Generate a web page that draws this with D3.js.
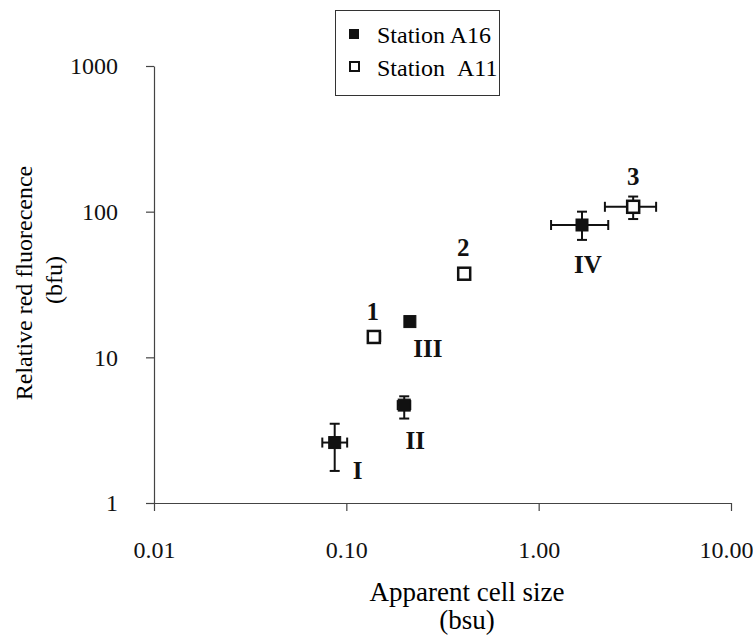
<!DOCTYPE html>
<html><head><meta charset="utf-8">
<script src="https://cdn.jsdelivr.net/npm/d3@7"></script>
<style>body{margin:0;background:#fff}svg{display:block}</style>
</head><body>
<svg id="c" width="753" height="635"></svg>
<script>
// Data
const a16Labels = ["I","II","III","IV"];
const a16X = [0.087, 0.200, 0.214, 1.68];
const a16Y = [2.6, 4.7, 17.6, 81];
const a16XLo = [0.075, 0.185, 0.205, 1.16];
const a16XHi = [0.101, 0.215, 0.225, 2.30];
const a16YLo = [1.66, 3.8, 16.5, 64];
const a16YHi = [3.5, 5.4, 18.8, 100];

const a11Labels = ["1","2","3"];
const a11X = [0.139, 0.41, 3.10];
const a11Y = [13.8, 37.5, 108];
const a11XLo = [0.130, 0.39, 2.21];
const a11XHi = [0.150, 0.43, 4.08];
const a11YLo = [13.0, 35.5, 89];
const a11YHi = [14.8, 39.5, 127];

const xTicks = [0.01, 0.1, 1, 10];
const xTickLabels = ["0.01","0.10","1.00","10.00"];
const yTicks = [1, 10, 100, 1000];
const yTickLabels = ["1","10","100","1000"];

const svg = d3.select("#c");
const font = "'Liberation Serif', 'Times New Roman', serif";
const x = d3.scaleLog().domain([0.01, 10]).range([154, 731]);
const y = d3.scaleLog().domain([1, 1000]).range([503, 66]);

// axes
const xAxis = d3.axisBottom(x).tickValues(xTicks).tickFormat((d,i)=>xTickLabels[i]).tickSizeInner(8).tickSizeOuter(0).tickPadding(30);
const gx = svg.append("g").attr("transform","translate(0,503)").call(xAxis);
const yAxis = d3.axisLeft(y).tickValues(yTicks).tickFormat((d,i)=>yTickLabels[i]).tickSizeInner(8).tickSizeOuter(0).tickPadding(28);
const gy = svg.append("g").attr("transform","translate(154,0)").call(yAxis);
[gx, gy].forEach(g=>{
  g.selectAll("path,line").attr("stroke","#444").attr("stroke-width",1.2);
  g.selectAll("text").attr("font-family",font).attr("fill","#111");
});
gx.selectAll("text").attr("font-size",24);
gy.selectAll("text").attr("font-size",24);
// keep the last x label inside the picture
gx.selectAll(".tick:last-of-type text").attr("text-anchor","end").attr("dx", 22);

// axis titles
svg.append("text").attr("x",467).attr("y",601).attr("text-anchor","middle")
  .attr("font-family",font).attr("font-size",27).text("Apparent cell size");
svg.append("text").attr("x",467).attr("y",629).attr("text-anchor","middle")
  .attr("font-family",font).attr("font-size",27).text("(bsu)");
svg.append("text").attr("transform","translate(32,283) rotate(-90)").attr("text-anchor","middle")
  .attr("font-family",font).attr("font-size",24).text("Relative red fluorecence");
svg.append("text").attr("transform","translate(62,280) rotate(-90)").attr("text-anchor","middle")
  .attr("font-family",font).attr("font-size",24).text("(bfu)");

function drawSeries(X, Y, XLo, XHi, YLo, YHi, filled) {
  const data = X.map((d,i)=>({x:d, y:Y[i], xlo:XLo[i], xhi:XHi[i], ylo:YLo[i], yhi:YHi[i]}));
  const g = svg.append("g").attr("stroke","#111").attr("stroke-width",2);
  const cap = 5;
  data.forEach(d=>{
    const cx = x(d.x), cy = y(d.y);
    g.append("line").attr("x1",x(d.xlo)).attr("x2",x(d.xhi)).attr("y1",cy).attr("y2",cy);
    g.append("line").attr("x1",x(d.xlo)).attr("x2",x(d.xlo)).attr("y1",cy-cap).attr("y2",cy+cap);
    g.append("line").attr("x1",x(d.xhi)).attr("x2",x(d.xhi)).attr("y1",cy-cap).attr("y2",cy+cap);
    g.append("line").attr("x1",cx).attr("x2",cx).attr("y1",y(d.ylo)).attr("y2",y(d.yhi));
    g.append("line").attr("x1",cx-cap).attr("x2",cx+cap).attr("y1",y(d.ylo)).attr("y2",y(d.ylo));
    g.append("line").attr("x1",cx-cap).attr("x2",cx+cap).attr("y1",y(d.yhi)).attr("y2",y(d.yhi));
  });
  svg.append("g").selectAll("rect").data(data).join("rect")
    .attr("x",d=>x(d.x)-6).attr("y",d=>y(d.y)-6).attr("width",12).attr("height",12)
    .attr("fill",filled?"#111":"#fff").attr("stroke","#111").attr("stroke-width",filled?1:2.5);
}
drawSeries(a16X,a16Y,a16XLo,a16XHi,a16YLo,a16YHi,true);
drawSeries(a11X,a11Y,a11XLo,a11XHi,a11YLo,a11YHi,false);

// point labels
const lab = (t, px, py, dx, dy) => svg.append("text").attr("x",x(px)+dx).attr("y",y(py)+dy)
  .attr("text-anchor","middle").attr("font-family",font).attr("font-weight","bold").attr("font-size",25).attr("fill","#111").text(t);
const a16Off = [[23,36],[11,44],[18,35],[6,48]];
a16Labels.forEach((t,i)=>lab(t,a16X[i],a16Y[i],a16Off[i][0],a16Off[i][1]));
const a11Off = [[-1,-17],[-1,-18],[0,-22]];
a11Labels.forEach((t,i)=>lab(t,a11X[i],a11Y[i],a11Off[i][0],a11Off[i][1]));

// legend
const leg = svg.append("g");
leg.append("rect").attr("x",335.5).attr("y",10.5).attr("width",164).attr("height",85)
  .attr("fill","#fff").attr("stroke","#333").attr("stroke-width",1);
leg.append("rect").attr("x",349).attr("y",29).attr("width",10).attr("height",10).attr("fill","#111");
leg.append("rect").attr("x",350).attr("y",62).attr("width",9).attr("height",9).attr("fill","#fff").attr("stroke","#111").attr("stroke-width",2);
leg.append("text").attr("x",377).attr("y",43).attr("font-family",font).attr("font-size",24).text("Station A16");
leg.append("text").attr("x",377).attr("y",76).attr("font-family",font).attr("font-size",24).text("Station\u00a0\u00a0A11");
</script>
</body></html>
